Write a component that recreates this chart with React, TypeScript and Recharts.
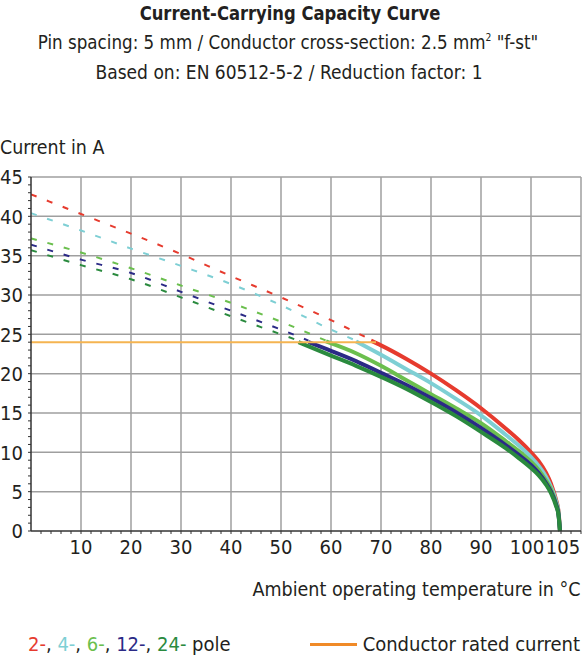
import { LineChart, Line, XAxis, YAxis, CartesianGrid } from "recharts";

const FONT = "'Liberation Sans Narrow', 'DejaVu Sans Condensed', 'Roboto', sans-serif";
const TEXT = "#231f20";

const RED = "#e63b2e";
const CYAN = "#7ecfd4";
const GREEN = "#6bbf4e";
const NAVY = "#2b2a86";
const DKGREEN = "#2a8a3e";
const ORANGE_LINE = "#f5b451";
const ORANGE_KEY = "#f08a28";

// [temperature °C, current A]
const red2Dash = [[0, 42.8], [10, 40.3], [20, 37.8], [30, 35.2], [40, 32.4], [50, 29.7], [60, 26.8], [68, 24.3]];
const red2Solid = [[68, 24.2], [70, 23.6], [75, 21.9], [80, 20.0], [85, 17.9], [90, 15.6], [95, 13.0], [97.5, 11.6], [100, 10.0], [101.5, 8.9], [103, 7.4], [104, 6.0], [105, 4.0], [105.5, 2.5], [105.8, 0]];

const cyan4Dash = [[0, 40.4], [10, 38.2], [20, 35.9], [30, 33.7], [40, 31.4], [50, 28.7], [60, 25.6], [65, 24.2]];
const cyan4Solid = [[65, 24.1], [70, 22.4], [75, 20.6], [80, 18.8], [85, 16.8], [90, 14.7], [95, 12.2], [97.5, 10.9], [100, 9.4], [101.5, 8.3], [103, 6.9], [104, 5.6], [105, 3.8], [105.5, 2.4], [105.8, 0]];

const green6Dash = [[0, 37.2], [10, 35.4], [20, 33.4], [30, 31.2], [40, 29.0], [50, 26.6], [59, 24.2]];
const green6Solid = [[59, 24.1], [65, 22.6], [70, 21.0], [75, 19.2], [80, 17.4], [85, 15.6], [90, 13.7], [95, 11.4], [97.5, 10.2], [100, 8.8], [101.5, 7.8], [103, 6.4], [104, 5.3], [105, 3.5], [105.5, 2.2], [105.8, 0]];

const navy12Dash = [[0, 36.4], [10, 34.5], [20, 32.8], [30, 30.4], [40, 28.0], [50, 25.6], [55.5, 24.2]];
const navy12Solid = [[55.5, 24.0], [60, 22.9], [65, 21.6], [70, 20.1], [75, 18.6], [80, 16.9], [85, 15.1], [90, 13.1], [95, 10.9], [97.5, 9.7], [100, 8.4], [101.5, 7.4], [103, 6.1], [104, 5.0], [105, 3.4], [105.5, 2.1], [105.8, 0]];

const dkgreen24Dash = [[0, 35.7], [10, 33.8], [20, 32.0], [30, 29.7], [40, 27.3], [50, 25.0], [53.5, 24.2]];
const dkgreen24Solid = [[53.5, 24.0], [60, 22.3], [65, 21.0], [70, 19.6], [75, 18.1], [80, 16.4], [85, 14.6], [90, 12.6], [95, 10.5], [97.5, 9.3], [100, 8.0], [101.5, 7.1], [103, 5.9], [104, 4.8], [105, 3.2], [105.5, 2.0], [105.8, 0]];

const ratedCurrent = [[0, 24], [69, 24]];

const xLabels = [10, 20, 30, 40, 50, 60, 70, 80, 90, 100, 105];
const xMinor = Array.from({ length: 55 }, (_, i) => (i + 1) * 2);
const xTicks = [...new Set([...xMinor, ...xLabels])].sort((a, b) => a - b);
const xGrid = [10, 20, 30, 40, 50, 60, 70, 80, 90, 100, 110];
const yTicks = Array.from({ length: 46 }, (_, i) => i);
const yGrid = [5, 10, 15, 20, 25, 30, 35, 40, 45];

const toPts = (arr: number[][]) => arr.map(([x, y]) => ({ x, y }));

const series = [
  { dash: red2Dash, solid: red2Solid, color: RED },
  { dash: cyan4Dash, solid: cyan4Solid, color: CYAN },
  { dash: green6Dash, solid: green6Solid, color: GREEN },
  { dash: navy12Dash, solid: navy12Solid, color: NAVY },
  { dash: dkgreen24Dash, solid: dkgreen24Solid, color: DKGREEN },
];

const XTick = ({ x, y, payload }: any) => {
  const v = payload.value;
  const dx = v === 100 ? -4 : v === 105 ? 7 : 0;
  return (
    <g>
      {v % 2 === 0 && <line x1={x} x2={x} y1={y} y2={y + 3} stroke="#333" strokeWidth={1} />}
      {xLabels.includes(v) && (
        <text x={x + dx} y={y + 23} textAnchor="middle" fontSize={20} fill={TEXT} fontFamily={FONT}>
          {v}
        </text>
      )}
    </g>
  );
};

const YTick = ({ x, y, payload }: any) => {
  const v = payload.value;
  return (
    <g>
      <line x1={x - 3} x2={x} y1={y} y2={y} stroke="#333" strokeWidth={1} />
      {v % 5 === 0 && (
        <text x={x - 8} y={y} dy="0.36em" textAnchor="end" fontSize={20} fill={TEXT} fontFamily={FONT}>
          {v}
        </text>
      )}
    </g>
  );
};

const line = (top: number, scale: number, extra: any = {}) => ({
  position: "absolute" as const,
  top,
  width: 582,
  textAlign: "center" as const,
  fontSize: 20,
  lineHeight: "26px",
  whiteSpace: "nowrap" as const,
  transform: `scaleX(${scale})`,
  transformOrigin: "center",
  ...extra,
});

export default function App() {
  return (
    <div style={{ position: "absolute", left: 0, top: 0, width: 582, height: 657, background: "#fff", fontFamily: FONT, color: TEXT }}>
      <div style={line(0, 0.91, { fontWeight: "bold", left: -1 })}>Current-Carrying Capacity Curve</div>
      <div style={line(29, 0.93, { left: -3 })}>
        Pin spacing: 5 mm / Conductor cross-section: 2.5 mm
        <sup style={{ fontSize: 11, lineHeight: 0 }}>2</sup> "f-st"
      </div>
      <div style={line(59, 0.95, { left: -2 })}>Based on: EN 60512-5-2 / Reduction factor: 1</div>
      <div style={{ position: "absolute", top: 134, left: 0, fontSize: 20, lineHeight: "26px", transform: "scaleX(0.97)", transformOrigin: "left" }}>
        Current in A
      </div>

      <div style={{ position: "absolute", top: 0, left: 0 }}>
        <LineChart width={582} height={560} margin={{ top: 177, right: 1, bottom: 0, left: 0 }}>
          <CartesianGrid horizontalValues={yGrid} verticalValues={xGrid} stroke="#9f9f9f" strokeWidth={1.5} />
          <XAxis
            dataKey="x"
            type="number"
            domain={[0, 110]}
            ticks={xTicks}
            interval={0}
            height={29}
            tickSize={0}
            tickMargin={0}
            tickLine={false}
            tick={<XTick />}
            axisLine={{ stroke: "#333", strokeWidth: 1.5 }}
            allowDataOverflow
          />
          <YAxis
            type="number"
            domain={[0, 45]}
            ticks={yTicks}
            interval={0}
            width={31}
            tickSize={0}
            tickMargin={0}
            tickLine={false}
            tick={<YTick />}
            axisLine={{ stroke: "#333", strokeWidth: 1.5 }}
          />
          {series.map((s, i) => (
            <Line
              key={"d" + i}
              data={toPts(s.dash)}
              dataKey="y"
              type="monotone"
              stroke={s.color}
              strokeWidth={2}
              strokeDasharray="6 11"
              dot={false}
              isAnimationActive={false}
            />
          ))}
          {series.map((s, i) => (
            <Line
              key={"s" + i}
              data={toPts(s.solid)}
              dataKey="y"
              type="monotone"
              stroke={s.color}
              strokeWidth={4}
              dot={false}
              isAnimationActive={false}
            />
          ))}
          <Line
            data={toPts(ratedCurrent)}
            dataKey="y"
            type="linear"
            stroke={ORANGE_LINE}
            strokeWidth={2}
            dot={false}
            isAnimationActive={false}
          />
        </LineChart>
      </div>

      <div style={{ position: "absolute", top: 576, right: 2, fontSize: 20, lineHeight: "26px", whiteSpace: "nowrap", transform: "scaleX(0.975)", transformOrigin: "right" }}>
        Ambient operating temperature in °C
      </div>

      <div style={{ position: "absolute", top: 631, left: 28, fontSize: 20, lineHeight: "26px", whiteSpace: "nowrap" }}>
        <span style={{ color: RED }}>2-</span>, <span style={{ color: CYAN }}>4-</span>,{" "}
        <span style={{ color: GREEN }}>6-</span>, <span style={{ color: NAVY }}>12-</span>,{" "}
        <span style={{ color: DKGREEN }}>24-</span> pole
      </div>
      <div style={{ position: "absolute", top: 643, left: 310, width: 47, height: 3, background: ORANGE_KEY }} />
      <div style={{ position: "absolute", top: 631, right: 2, fontSize: 20, lineHeight: "26px", whiteSpace: "nowrap" }}>
        Conductor rated current
      </div>
    </div>
  );
}
